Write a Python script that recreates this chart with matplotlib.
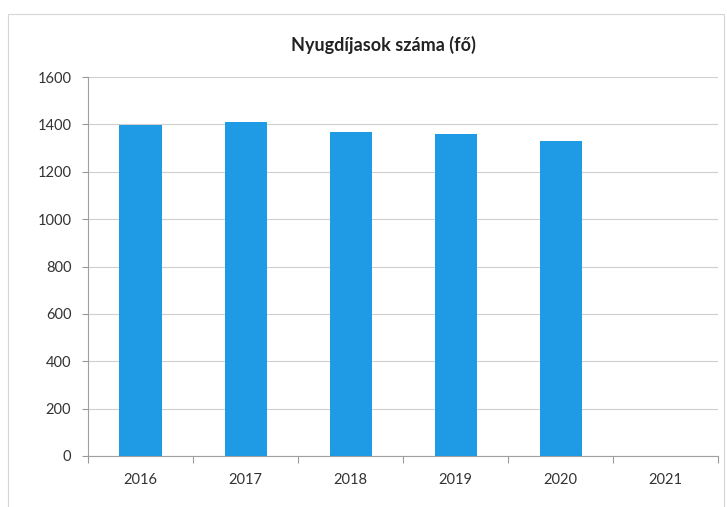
import matplotlib
matplotlib.use("Agg")
import matplotlib.pyplot as plt
from matplotlib.patches import Rectangle

years = ["2016", "2017", "2018", "2019", "2020", "2021"]
pensioners = [1397, 1410, 1368, 1359, 1330, 0]
y_ticks = [0, 200, 400, 600, 800, 1000, 1200, 1400, 1600]
title = "Nyugdíjasok száma (fő)"

plt.rcParams["font.family"] = ["Lato", "DejaVu Sans"]

fig = plt.figure(figsize=(7.27, 5.07), dpi=100)
fig.patch.set_facecolor("white")

# chart-area frame
fig.add_artist(Rectangle((0.011, -0.01), 0.985, 0.982, transform=fig.transFigure,
                         fill=False, edgecolor="#d6d6d6", linewidth=0.8))

ax = fig.add_axes([0.121, 0.1006, 0.867, 0.7475])
x = range(len(years))
ax.bar(x, pensioners, width=0.4, color="#1f9be6", zorder=3)

ax.set_xlim(-0.5, len(years) - 0.5)
ax.set_ylim(0, 1600)
ax.set_yticks(y_ticks)
ax.set_xticks(list(x))
ax.set_xticklabels(years)
ax.tick_params(axis="x", length=0, pad=12, labelsize=10.5, colors="#333333")
ax.tick_params(axis="y", length=4, pad=8, labelsize=10.5, colors="#333333",
               color="#999999", width=0.8)
# category boundary ticks
ax.set_xticks([i - 0.5 for i in range(len(years) + 1)], minor=True)
ax.tick_params(axis="x", which="minor", length=5, color="#999999", width=0.8)

ax.grid(axis="y", color="#cfcfcf", linewidth=0.8, zorder=0)
for side in ("top", "right"):
    ax.spines[side].set_visible(False)
ax.spines["left"].set_color("#a0a0a0")
ax.spines["bottom"].set_color("#a0a0a0")
ax.spines["left"].set_linewidth(0.8)
ax.spines["bottom"].set_linewidth(0.8)

fig.text(0.527, 0.911, title, ha="center", va="center", fontsize=13,
         fontweight="bold", color="#222222")

fig.savefig("out.png", dpi=100, facecolor="white")
